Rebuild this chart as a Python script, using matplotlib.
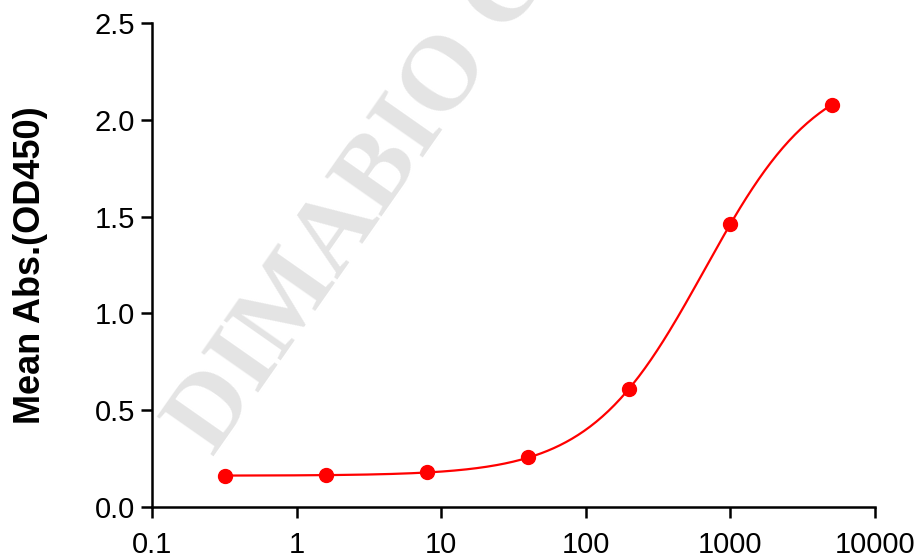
import numpy as np
import matplotlib
matplotlib.use("Agg")
import matplotlib.pyplot as plt

# data (5-fold dilution series)
conc = [0.32, 1.6, 8, 40, 200, 1000, 5000]
mean_abs = [0.160, 0.166, 0.179, 0.256, 0.612, 1.462, 2.077]
x_ticks = [0.1, 1, 10, 100, 1000, 10000]
x_tick_labels = ["0.1", "1", "10", "100", "1000", "10000"]
y_ticks = [0.0, 0.5, 1.0, 1.5, 2.0, 2.5]
y_label = "Mean Abs.(OD450)"
watermark = "DIMABIO C"

red = "#ff0000"


# 4PL model: y = d + (a - d) / (1 + (x / c)^b)
def four_pl(p, x):
    a, b, c, d = p
    return d + (a - d) / (1 + (x / c) ** b)


def fit_four_pl(x, y):
    x = np.asarray(x, float)
    y = np.asarray(y, float)
    p = np.array([y.min(), 1.0, np.median(x) * 5, y.max() * 1.2])
    lam = 1e-3
    for _ in range(500):
        r = y - four_pl(p, x)
        J = np.empty((len(x), 4))
        for k in range(4):
            dp = np.zeros(4)
            dp[k] = 1e-6 * max(abs(p[k]), 1e-3)
            J[:, k] = (four_pl(p + dp, x) - four_pl(p - dp, x)) / (2 * dp[k])
        A = J.T @ J
        step = np.linalg.solve(A + lam * np.diag(np.diag(A)), J.T @ r)
        p_new = p + step
        if p_new[2] > 0 and np.sum((y - four_pl(p_new, x)) ** 2) < np.sum(r ** 2):
            p = p_new
            lam *= 0.3
        else:
            lam *= 10
    return p


params = fit_four_pl(conc, mean_abs)
x_fit = np.logspace(np.log10(conc[0]), np.log10(conc[-1]), 300)
y_fit = four_pl(params, x_fit)

plt.rcParams["font.family"] = ["Liberation Sans", "DejaVu Sans"]

fig = plt.figure(figsize=(9.18, 5.58), dpi=100)
ax = fig.add_axes([0.1656, 0.0914, 0.7876, 0.8674])

# watermark behind everything
fig.text(0.232, 0.180, watermark, rotation=55, rotation_mode="anchor",
         ha="left", va="baseline", fontsize=76, fontweight="bold",
         family="Liberation Serif", color="#e4e4e4", zorder=0)
ax.patch.set_alpha(0)

ax.plot(x_fit, y_fit, color=red, lw=1.6, zorder=3)
ax.plot(conc, mean_abs, "o", color=red, ms=10, zorder=4)

ax.set_xscale("log")
ax.set_xlim(0.1, 10000)
ax.set_ylim(0, 2.5)
ax.set_xticks(x_ticks)
ax.set_xticklabels(x_tick_labels)
ax.minorticks_off()
ax.set_yticks(y_ticks)
ax.set_yticklabels([f"{v:.1f}" for v in y_ticks])

for s in ["top", "right"]:
    ax.spines[s].set_visible(False)
for s in ["left", "bottom"]:
    ax.spines[s].set_linewidth(1.8)
ax.tick_params(axis="both", which="major", length=8, width=1.8,
               labelsize=21, direction="out", pad=4)
ax.tick_params(axis="x", pad=9)

ax.set_ylabel(y_label, fontsize=26, fontweight="bold", labelpad=34)

fig.savefig("out.png", dpi=100)
